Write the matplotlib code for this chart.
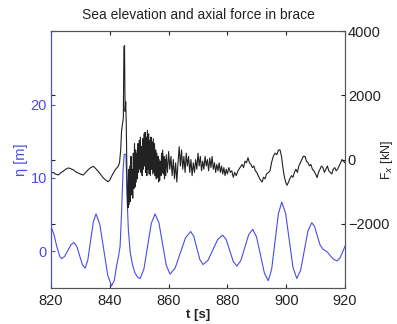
import matplotlib
matplotlib.use("Agg")
import matplotlib.pyplot as plt

plt.rcParams['font.family'] = ['Liberation Sans', 'DejaVu Sans']

# Sea surface elevation eta [m] vs time [s]
t_eta = [820.0, 821.0, 822.0, 823.0, 823.6, 824.65, 825.7, 826.75, 827.8,
         828.75, 829.7, 830.65, 831.6, 832.5, 833.45, 834.4, 835.3,
         836.6, 837.95, 839.3, 840.6, 841.5, 842.3, 843.0, 843.5, 844.0,
         844.5, 844.9, 845.5, 845.9, 846.3, 846.9, 847.7, 848.5, 849.4,
         850.3, 851.6, 852.85, 854.1, 855.4, 856.7, 857.95, 859.2, 860.5,
         862.25, 864.0, 865.75, 867.5, 868.55, 869.6, 870.65, 871.7,
         873.4, 875.05, 876.7, 878.4, 879.6, 880.8, 882.0, 883.2,
         884.55, 885.9, 887.25, 888.6, 889.9, 891.25, 892.6, 893.9,
         895.05, 896.2, 897.35, 898.5, 899.8, 901.05, 902.3, 903.6,
         904.9, 906.15, 907.4, 908.7, 909.65, 910.6, 911.55, 912.5,
         913.3, 914.0, 915.0, 916.2, 917.3, 918.3, 919.2, 920.0]
eta = [3.4, 2.3, 0.6, -0.7, -1.0, -0.68, 0.1, 0.88, 1.2,
       0.69, -0.55, -1.79, -2.3, -1.22, 1.4, 4.02, 5.1,
       3.67, 0.2, -3.27, -4.7, -4.0, -2.0, -0.6, 0.7, 5.3,
       11.0, 13.2, 13.2, 7.0, 3.0, 0.0, -1.8, -2.9, -3.5,
       -3.7, -2.4, 0.7, 3.8, 5.1, 3.9, 1.0, -1.9, -3.1,
       -2.25, -0.2, 1.85, 2.7, 2.04, 0.45, -1.14, -1.8,
       -1.22, 0.2, 1.62, 2.2, 1.59, 0.1, -1.39, -2.0,
       -1.27, 0.5, 2.27, 3.0, 1.98, -0.5, -2.98, -4.0,
       -2.44, 1.35, 5.14, 6.7, 5.18, 1.5, -2.18, -3.7,
       -2.59, 0.1, 2.79, 3.9, 3.37, 2.1, 0.83, 0.3,
       0.1, -0.1, -0.6, -1.1, -1.3, -0.9, -0.1, 0.7]

# Axial force in the brace [kN] vs time [s]
t_force = [820.0, 820.8, 821.5, 822.5, 823.2, 824.2, 825.0, 825.9, 826.6, 827.6,
           828.4, 829.3, 830.2, 831.0, 831.8, 832.7, 833.5, 834.4, 835.2, 836.1,
           837.0, 837.8, 838.6, 839.5, 840.1, 840.6, 841.2, 841.8, 842.4, 842.9,
           843.3, 843.7, 844.0, 844.3, 844.6, 844.8, 845.0, 845.2, 845.4, 845.6,
           845.8, 846.0, 846.2, 846.4, 846.6, 846.8, 847.0, 847.2, 847.4, 847.6,
           847.8, 848.0, 848.2, 848.4, 848.6, 848.8, 849.0, 849.2, 849.4, 849.6,
           849.8, 850.0, 850.2, 850.4, 850.6, 850.8, 851.0, 851.2, 851.4, 851.6,
           851.8, 852.0, 852.2, 852.4, 852.6, 852.8, 853.0, 853.2, 853.4, 853.6,
           853.8, 854.0, 854.2, 854.4, 854.6, 854.8, 855.0, 855.2, 855.4, 855.6,
           855.8, 856.0, 856.2, 856.4, 856.6, 856.8, 857.0, 857.2, 857.4, 857.6,
           857.8, 858.0, 858.2, 858.4, 858.6, 858.8, 859.0, 859.2, 859.6, 860.0,
           860.4, 860.8, 861.2, 861.6, 862.0, 862.4, 862.8, 863.2, 863.6, 864.0,
           864.4, 864.8, 865.2, 865.6, 866.0, 866.4, 866.8, 867.2, 867.6, 868.0,
           868.4, 868.8, 869.2, 869.6, 870.0, 870.4, 870.8, 871.2, 871.6, 872.0,
           872.4, 872.8, 873.2, 873.6, 874.0, 874.4, 874.8, 875.2, 875.6, 876.0,
           876.4, 876.8, 877.2, 877.6, 878.0, 878.4, 878.8, 879.2, 879.6, 880.0,
           880.5, 881.0, 881.5, 882.0, 882.5, 883.0, 883.6, 884.3, 885.0, 885.5,
           886.0, 886.5, 887.0, 887.5, 888.0, 888.5, 889.0, 889.5, 890.0, 890.5,
           891.0, 891.8, 892.3, 892.8, 893.3, 894.0, 894.5, 895.0, 895.6, 896.2,
           896.8, 897.4, 897.9, 898.4, 898.8, 899.3, 899.8, 900.3, 900.8, 901.2,
           901.8, 902.3, 902.8, 903.3, 903.8, 904.3, 904.8, 905.3, 905.8, 906.4,
           906.9, 907.4, 907.9, 908.4, 908.9, 909.4, 910.0, 910.5, 911.0, 911.5,
           912.0, 912.5, 913.0, 913.5, 914.0, 914.5, 915.0, 915.5, 916.0, 916.5,
           917.0, 917.5, 918.0, 918.5, 919.0, 919.5, 920.0]
force = [-420, -400, -450, -480, -420, -360, -300, -260, -280, -320,
         -380, -420, -460, -480, -400, -310, -250, -210, -280, -370,
         -480, -570, -640, -690, -620, -520, -420, -320, -260, -200,
         -100, 300, 900, 1100, 1300, 3500, 3550, 1500, 1800, 1100,
         -300, -1200, -1500, -300, -1400, -200, -1300, 100, -1100, -300,
         -1200, 200, -900, 500, -850, 300, -700, 200, -600, 500,
         -400, 600, -300, 700, -400, 400, -500, 650, -300, 800,
         -200, 850, -400, 700, -500, 900, -300, 800, -450, 600,
         -500, 700, -300, 550, -450, 650, -400, 500, -500, 300,
         -600, 200, -550, 100, -700, 0, -650, -50, -500, 200,
         -400, 300, -450, 100, -600, 0, -500, 150, -400, 250,
         -300, 100, -500, 0, -600, -100, -700, -100, 400, -200,
         300, -300, 100, -400, 200, -200, 100, -400, 0, -500,
         -100, -400, 0, -300, 200, -200, 100, -350, -50, -300,
         100, -200, 0, -350, 50, -250, 100, -300, -100, -400,
         -150, -350, -100, -400, -200, -450, -250, -500, -300, -450,
         -250, -400, -350, -550, -400, -500, -350, -250, -150, -250,
         -50, -100, 60, -100, -150, -250, -200, -350, -400, -500,
         -600, -700, -550, -600, -450, -400, -350, -100, 100, 200,
         150, 300, 300, 100, -200, -500, -700, -800, -700, -600,
         -500, -550, -400, -300, -400, -200, -100, 0, 100, 100,
         -50, -100, -200, -150, -300, -350, -450, -560, -400, -300,
         -200, -250, -400, -300, -200, -350, -400, -450, -300, -250,
         -350, -300, -200, -100, 0, -50, -100]

x_ticks = [820, 840, 860, 880, 900, 920]
eta_ticks = [0, 10, 20]
force_ticks = [-2000, 0, 2000, 4000]

blue = '#4b4be8'
ink = '#222222'
fs = 10.5

fig = plt.figure(figsize=(3.97, 3.24), dpi=100)
ax1 = fig.add_axes([0.1285, 0.111, 0.7405, 0.793])
ax1.plot(t_eta, eta, color=blue, lw=0.8)
ax1.set_xlim(820, 920)
ax1.set_ylim(-5, 30)
ax1.set_xticks(x_ticks)
ax1.set_yticks(eta_ticks)
ax1.tick_params(axis='x', direction='in', length=3, top=True, colors=ink,
                labelcolor=ink, labelsize=fs, pad=4)
ax1.tick_params(axis='y', direction='in', length=3, right=True, colors=blue,
                labelcolor=blue, labelsize=fs, pad=3)
ax1.set_xlabel('t [s]', fontsize=fs - 1, fontweight='bold', color=ink, labelpad=1)
ax1.set_ylabel('η [m]', fontsize=fs, color=blue, labelpad=2)
for side in ('top', 'bottom', 'right'):
    ax1.spines[side].set_color('#555555')
ax1.spines['left'].set_color(blue)

ax2 = ax1.twinx()
ax2.plot(t_force, force, color=ink, lw=0.8)
ax2.set_ylim(-4000, 4000)
ax2.set_yticks(force_ticks)
ax2.tick_params(axis='y', direction='in', length=3, left=True, colors=ink,
                labelcolor=ink, labelsize=fs, pad=2)
ax2.set_ylabel('F$_x$ [kN]', fontsize=fs - 1.5, color=ink, rotation=90,
               va='center', ha='center')
ax2.yaxis.set_label_coords(1.143, 0.5)
ax2.spines['left'].set_color(blue)
ax2.spines['right'].set_color('#555555')
ax2.spines['top'].set_color('#555555')
ax2.spines['bottom'].set_color('#555555')

ax1.set_title('Sea elevation and axial force in brace', fontsize=fs - 0.5,
              color=ink, pad=9)

fig.savefig('out.png', dpi=100)
